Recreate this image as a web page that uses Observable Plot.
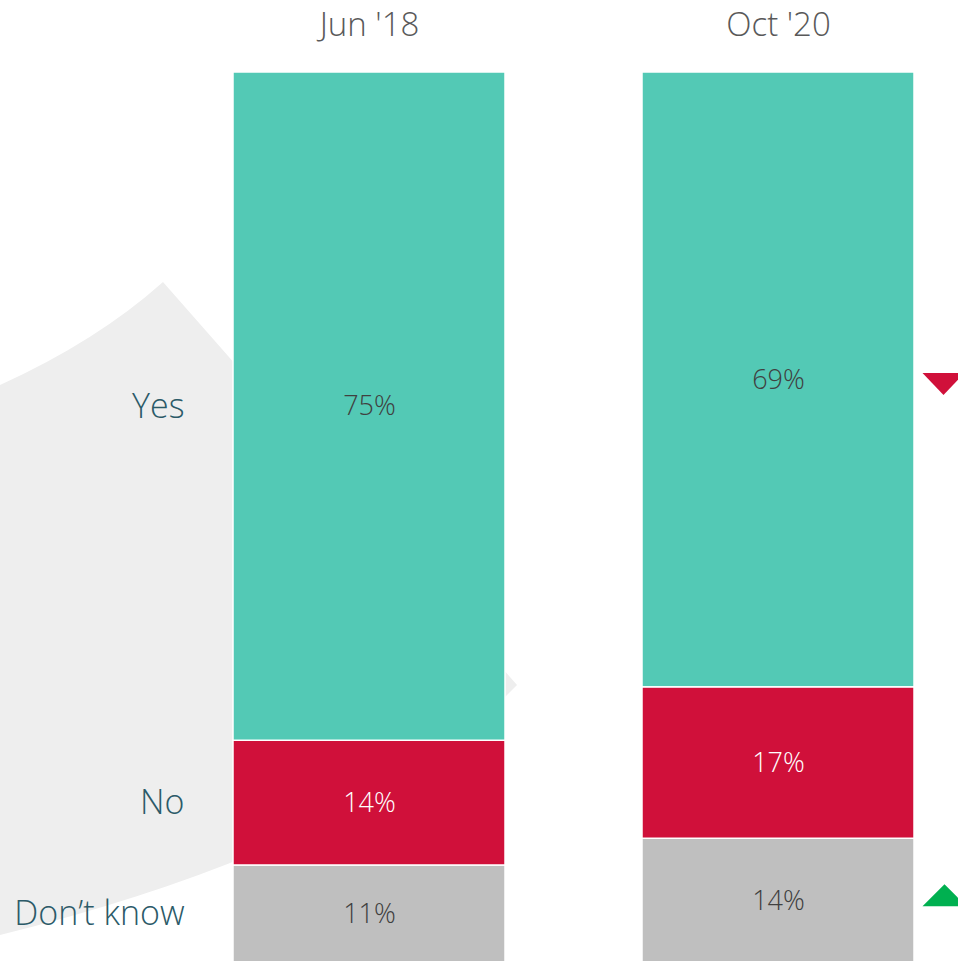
<!DOCTYPE html>
<html>
<head>
<meta charset="utf-8">
<script src="https://cdn.jsdelivr.net/npm/d3@7"></script>
<script src="https://cdn.jsdelivr.net/npm/@observablehq/plot@0.6"></script>
<style>
  html, body { margin: 0; padding: 0; background: #ffffff; }
  #chart svg { display: block; }
</style>
</head>
<body>
<div id="chart"></div>
<script>
// ---- data ----
const periods = ["Jun '18", "Oct '20"];
const answers = ["Yes", "No", "Don\u2019t know"];
const yesValues = [75, 69];
const noValues = [14, 17];
const dontKnowValues = [11, 14];
// change markers for Oct '20 vs Jun '18
const changes = [
  { period: "Oct '20", answer: "Yes", direction: "down" },
  { period: "Oct '20", answer: "Don\u2019t know", direction: "up" }
];

const colors = { "Yes": "#53c9b5", "No": "#d0103a", "Don\u2019t know": "#bfbfbf" };
const labelColors = { "Yes": "#404040", "No": "#ffffff", "Don\u2019t know": "#404040" };

// rows, bottom-first stacking order
const rows = [];
periods.forEach((p, i) => {
  rows.push({ period: p, answer: "Don\u2019t know", value: dontKnowValues[i] });
  rows.push({ period: p, answer: "No", value: noValues[i] });
  rows.push({ period: p, answer: "Yes", value: yesValues[i] });
});

// midpoints for change markers
const markerRows = changes.map(c => {
  let base = 0, mid = 0;
  for (const r of rows.filter(r => r.period === c.period)) {
    if (r.answer === c.answer) { mid = base + r.value / 2; break; }
    base += r.value;
  }
  return { ...c, mid };
});

const downTri = { draw(ctx) { ctx.moveTo(-21, -11); ctx.lineTo(21, -11); ctx.lineTo(0, 11); ctx.closePath(); } };
const upTri = { draw(ctx) { ctx.moveTo(0, -11); ctx.lineTo(22, 11); ctx.lineTo(-22, 11); ctx.closePath(); } };

const font = "'Open Sans', 'Segoe UI', sans-serif";

const chart = Plot.plot({
  width: 958,
  height: 961,
  margin: 0,
  style: { fontFamily: font, background: "transparent" },
  x: { domain: periods, range: [233, 914], paddingInner: 0.335, paddingOuter: 0, axis: null },
  y: { domain: [0, 100], range: [963, 72], axis: null },
  color: { type: "identity" },
  marks: [
    Plot.barY(rows, {
      x: "period", y: "value", z: "answer",
      fill: d => colors[d.answer],
      stroke: "#ffffff", strokeWidth: 1.5
    }),
    Plot.text(rows, Plot.stackY({
      x: "period", y: "value", z: "answer",
      text: d => d.value + "%",
      fill: d => labelColors[d.answer],
      fontSize: 27, fontWeight: 300
    })),
    Plot.text(rows, Plot.stackY({
      x: "period", y: "value", z: "answer",
      text: d => d.period === periods[0] ? d.answer : "",
      textAnchor: "end", dx: -185,
      fill: "#2b5a68", fontSize: 34, fontWeight: 300
    })),
    Plot.text(periods, {
      x: d => d, frameAnchor: "top", dy: 25,
      text: d => d, lineAnchor: "middle",
      fill: "#595959", fontSize: 33, fontWeight: 300
    }),
    Plot.dot(markerRows.filter(d => d.direction === "down"), {
      x: "period", y: "mid", dx: 165, dy: 4,
      symbol: downTri, fill: "#d0103a", stroke: "none"
    }),
    Plot.dot(markerRows.filter(d => d.direction === "up"), {
      x: "period", y: "mid", dx: 166, dy: -6,
      symbol: upTri, fill: "#00b050", stroke: "none"
    })
  ]
});

// decorative background shape (not data)
const bg = document.createElementNS("http://www.w3.org/2000/svg", "path");
bg.setAttribute("d", "M0,385 Q97,341 163,282 L517,685 L505,697 Q356,846 0,935 Z");
bg.setAttribute("fill", "#eeeeee");
chart.insertBefore(bg, chart.firstChild.nextSibling);
chart.style.background = "#ffffff";

document.getElementById("chart").appendChild(chart);
</script>
</body>
</html>
